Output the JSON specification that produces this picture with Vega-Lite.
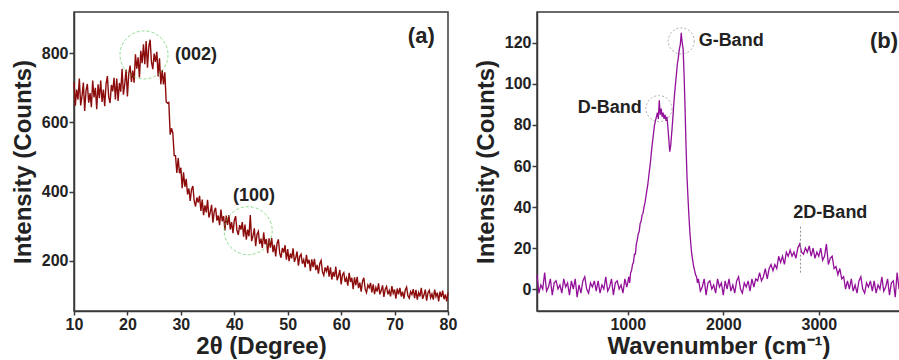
{
"$schema": "https://vega.github.io/schema/vega-lite/v6.json",
"padding": {"left": 10, "top": 11, "right": 0, "bottom": 0},
"background": "white",
"bounds": "flush",
"spacing": 89,
"config": {
  "font": "Liberation Sans",
  "view": {"stroke": "#3a3a3a", "strokeWidth": 1.5},
  "axis": {"grid": false, "domainColor": "#3a3a3a", "domainWidth": 1.5, "tickColor": "#3a3a3a", "tickWidth": 1.5,
    "labelFont": "Liberation Sans", "labelFontWeight": "bold", "labelFontSize": 16, "labelColor": "#222222",
    "titleFont": "Liberation Sans", "titleFontWeight": "bold", "titleFontSize": 24, "titleColor": "#222222"}
},
"datasets": {
 "xrd": [
{"t":10.00,"i":717},{"t":10.25,"i":648},{"t":10.50,"i":695},{"t":10.75,"i":666},{"t":11.00,"i":727},{"t":11.25,"i":649},{"t":11.50,"i":676},{"t":11.75,"i":715},
{"t":12.00,"i":633},{"t":12.25,"i":692},{"t":12.50,"i":711},{"t":12.75,"i":657},{"t":13.00,"i":685},{"t":13.25,"i":644},{"t":13.50,"i":721},{"t":13.75,"i":672},
{"t":14.00,"i":700},{"t":14.25,"i":638},{"t":14.50,"i":710},{"t":14.75,"i":670},{"t":15.00,"i":721},{"t":15.25,"i":659},{"t":15.50,"i":695},{"t":15.75,"i":647},
{"t":16.00,"i":711},{"t":16.25,"i":734},{"t":16.50,"i":673},{"t":16.75,"i":656},{"t":17.00,"i":708},{"t":17.25,"i":690},{"t":17.50,"i":729},{"t":17.75,"i":666},
{"t":18.00,"i":727},{"t":18.25,"i":662},{"t":18.50,"i":714},{"t":18.75,"i":689},{"t":19.00,"i":755},{"t":19.25,"i":680},{"t":19.50,"i":711},{"t":19.75,"i":753},
{"t":20.00,"i":675},{"t":20.25,"i":740},{"t":20.50,"i":764},{"t":20.75,"i":717},{"t":21.00,"i":750},{"t":21.25,"i":715},{"t":21.50,"i":797},{"t":21.75,"i":755},
{"t":22.00,"i":788},{"t":22.25,"i":730},{"t":22.50,"i":807},{"t":22.75,"i":771},{"t":23.00,"i":826},{"t":23.25,"i":768},{"t":23.50,"i":835},{"t":23.75,"i":758},
{"t":24.00,"i":819},{"t":24.25,"i":839},{"t":24.50,"i":774},{"t":24.75,"i":754},{"t":25.00,"i":799},{"t":25.25,"i":775},{"t":25.50,"i":804},{"t":25.75,"i":733},
{"t":26.00,"i":785},{"t":26.25,"i":710},{"t":26.50,"i":751},{"t":26.75,"i":710},{"t":27.00,"i":745},{"t":27.25,"i":660},{"t":27.50,"i":656},{"t":27.75,"i":658},
{"t":28.00,"i":565},{"t":28.25,"i":583},{"t":28.50,"i":570},{"t":28.75,"i":504},{"t":29.00,"i":504},{"t":29.25,"i":454},{"t":29.50,"i":497},{"t":29.75,"i":453},
{"t":30.00,"i":469},{"t":30.25,"i":410},{"t":30.50,"i":456},{"t":30.75,"i":414},{"t":31.00,"i":437},{"t":31.25,"i":392},{"t":31.50,"i":409},{"t":31.75,"i":373},
{"t":32.00,"i":406},{"t":32.25,"i":416},{"t":32.50,"i":373},{"t":32.75,"i":357},{"t":33.00,"i":383},{"t":33.25,"i":368},{"t":33.50,"i":388},{"t":33.75,"i":344},
{"t":34.00,"i":377},{"t":34.25,"i":332},{"t":34.50,"i":360},{"t":34.75,"i":340},{"t":35.00,"i":376},{"t":35.25,"i":325},{"t":35.50,"i":340},{"t":35.75,"i":362},
{"t":36.00,"i":310},{"t":36.25,"i":343},{"t":36.50,"i":353},{"t":36.75,"i":316},{"t":37.00,"i":331},{"t":37.25,"i":303},{"t":37.50,"i":348},{"t":37.75,"i":314},
{"t":38.00,"i":329},{"t":38.25,"i":288},{"t":38.50,"i":331},{"t":38.75,"i":304},{"t":39.00,"i":332},{"t":39.25,"i":291},{"t":39.50,"i":312},{"t":39.75,"i":280},
{"t":40.00,"i":317},{"t":40.25,"i":329},{"t":40.50,"i":288},{"t":40.75,"i":275},{"t":41.00,"i":303},{"t":41.25,"i":290},{"t":41.50,"i":312},{"t":41.75,"i":270},
{"t":42.00,"i":305},{"t":42.25,"i":261},{"t":42.50,"i":290},{"t":42.75,"i":271},{"t":43.00,"i":332},{"t":43.25,"i":257},{"t":43.50,"i":272},{"t":43.75,"i":294},
{"t":44.00,"i":242},{"t":44.25,"i":276},{"t":44.50,"i":285},{"t":44.75,"i":249},{"t":45.00,"i":264},{"t":45.25,"i":237},{"t":45.50,"i":282},{"t":45.75,"i":248},
{"t":46.00,"i":263},{"t":46.25,"i":222},{"t":46.50,"i":265},{"t":46.75,"i":238},{"t":47.00,"i":266},{"t":47.25,"i":225},{"t":47.50,"i":246},{"t":47.75,"i":213},
{"t":48.00,"i":250},{"t":48.25,"i":262},{"t":48.50,"i":222},{"t":48.75,"i":209},{"t":49.00,"i":237},{"t":49.25,"i":224},{"t":49.50,"i":245},{"t":49.75,"i":203},
{"t":50.00,"i":234},{"t":50.25,"i":199},{"t":50.50,"i":221},{"t":50.75,"i":207},{"t":51.00,"i":236},{"t":51.25,"i":197},{"t":51.50,"i":209},{"t":51.75,"i":227},
{"t":52.00,"i":186},{"t":52.25,"i":213},{"t":52.50,"i":219},{"t":52.75,"i":192},{"t":53.00,"i":203},{"t":53.25,"i":181},{"t":53.50,"i":217},{"t":53.75,"i":192},
{"t":54.00,"i":203},{"t":54.25,"i":170},{"t":54.50,"i":204},{"t":54.75,"i":182},{"t":55.00,"i":206},{"t":55.25,"i":173},{"t":55.50,"i":188},{"t":55.75,"i":163},
{"t":56.00,"i":192},{"t":56.25,"i":201},{"t":56.50,"i":168},{"t":56.75,"i":158},{"t":57.00,"i":181},{"t":57.25,"i":170},{"t":57.50,"i":186},{"t":57.75,"i":154},
{"t":58.00,"i":181},{"t":58.25,"i":146},{"t":58.50,"i":168},{"t":58.75,"i":154},{"t":59.00,"i":183},{"t":59.25,"i":144},{"t":59.50,"i":156},{"t":59.75,"i":174},
{"t":60.00,"i":132},{"t":60.25,"i":160},{"t":60.50,"i":166},{"t":60.75,"i":139},{"t":61.00,"i":150},{"t":61.25,"i":128},{"t":61.50,"i":165},{"t":61.75,"i":139},
{"t":62.00,"i":151},{"t":62.25,"i":118},{"t":62.50,"i":152},{"t":62.75,"i":130},{"t":63.00,"i":154},{"t":63.25,"i":121},{"t":63.50,"i":137},{"t":63.75,"i":111},
{"t":64.00,"i":141},{"t":64.25,"i":151},{"t":64.50,"i":118},{"t":64.75,"i":108},{"t":65.00,"i":130},{"t":65.25,"i":122},{"t":65.50,"i":136},{"t":65.75,"i":109},
{"t":66.00,"i":132},{"t":66.25,"i":104},{"t":66.50,"i":123},{"t":66.75,"i":111},{"t":67.00,"i":135},{"t":67.25,"i":103},{"t":67.50,"i":114},{"t":67.75,"i":129},
{"t":68.00,"i":96},{"t":68.25,"i":118},{"t":68.50,"i":126},{"t":68.75,"i":103},{"t":69.00,"i":114},{"t":69.25,"i":97},{"t":69.50,"i":127},{"t":69.75,"i":106},
{"t":70.00,"i":117},{"t":70.25,"i":91},{"t":70.50,"i":120},{"t":70.75,"i":103},{"t":71.00,"i":122},{"t":71.25,"i":97},{"t":71.50,"i":111},{"t":71.75,"i":91},
{"t":72.00,"i":116},{"t":72.25,"i":124},{"t":72.50,"i":99},{"t":72.75,"i":92},{"t":73.00,"i":111},{"t":73.25,"i":103},{"t":73.50,"i":118},{"t":73.75,"i":92},
{"t":74.00,"i":116},{"t":74.25,"i":88},{"t":74.50,"i":108},{"t":74.75,"i":97},{"t":75.00,"i":122},{"t":75.25,"i":90},{"t":75.50,"i":101},{"t":75.75,"i":117},
{"t":76.00,"i":85},{"t":76.25,"i":108},{"t":76.50,"i":115},{"t":76.75,"i":93},{"t":77.00,"i":104},{"t":77.25,"i":88},{"t":77.50,"i":117},{"t":77.75,"i":97},
{"t":78.00,"i":108},{"t":78.25,"i":83},{"t":78.50,"i":111},{"t":78.75,"i":95},{"t":79.00,"i":114},{"t":79.25,"i":89},{"t":79.50,"i":103},{"t":79.75,"i":83},
{"t":80.00,"i":108}
 ],
 "raman": [
{"w":50,"c":7},{"w":70,"c":-2},{"w":90,"c":2},{"w":110,"c":0},{"w":130,"c":8},{"w":150,"c":-1},{"w":170,"c":1},{"w":190,"c":5},
{"w":210,"c":-3},{"w":230,"c":3},{"w":250,"c":4},{"w":270,"c":0},{"w":290,"c":2},{"w":310,"c":-2},{"w":330,"c":5},{"w":350,"c":1},
{"w":370,"c":3},{"w":390,"c":-3},{"w":410,"c":4},{"w":430,"c":0},{"w":450,"c":5},{"w":470,"c":-4},{"w":490,"c":2},{"w":510,"c":-2},
{"w":530,"c":4},{"w":550,"c":6},{"w":570,"c":0},{"w":590,"c":-2},{"w":610,"c":3},{"w":630,"c":1},{"w":650,"c":4},{"w":670,"c":-1},
{"w":690,"c":4},{"w":710,"c":-2},{"w":730,"c":2},{"w":750,"c":0},{"w":770,"c":6},{"w":790,"c":-1},{"w":810,"c":1},{"w":830,"c":5},
{"w":850,"c":-3},{"w":870,"c":3},{"w":890,"c":4},{"w":910,"c":0},{"w":930,"c":2},{"w":950,"c":-2},{"w":970,"c":5},{"w":990,"c":1},
{"w":1000,"c":3},{"w":1010,"c":6},{"w":1020,"c":3},{"w":1030,"c":8},{"w":1040,"c":9},{"w":1050,"c":12},{"w":1060,"c":13},{"w":1070,"c":17},
{"w":1080,"c":17},{"w":1090,"c":22},{"w":1100,"c":24},{"w":1110,"c":27},{"w":1120,"c":28},{"w":1130,"c":32},{"w":1140,"c":33},{"w":1150,"c":36},
{"w":1160,"c":37},{"w":1170,"c":40},{"w":1180,"c":42},{"w":1190,"c":45},{"w":1200,"c":48},{"w":1210,"c":51},{"w":1220,"c":55},{"w":1230,"c":59},
{"w":1240,"c":63},{"w":1250,"c":68},{"w":1260,"c":72},{"w":1270,"c":76},{"w":1280,"c":80},{"w":1290,"c":82},{"w":1300,"c":84},{"w":1310,"c":86},
{"w":1320,"c":83},{"w":1330,"c":92},{"w":1340,"c":85},{"w":1350,"c":88},{"w":1360,"c":84},{"w":1370,"c":86},{"w":1380,"c":83},{"w":1390,"c":85},
{"w":1400,"c":82},{"w":1410,"c":84},{"w":1420,"c":79},{"w":1430,"c":73},{"w":1440,"c":67},{"w":1450,"c":70},{"w":1460,"c":76},{"w":1470,"c":82},
{"w":1480,"c":89},{"w":1490,"c":95},{"w":1500,"c":100},{"w":1510,"c":105},{"w":1520,"c":110},{"w":1530,"c":113},{"w":1540,"c":117},{"w":1550,"c":119},
{"w":1560,"c":125},{"w":1570,"c":120},{"w":1580,"c":117},{"w":1590,"c":104},{"w":1600,"c":88},{"w":1610,"c":70},{"w":1620,"c":55},{"w":1630,"c":45},
{"w":1640,"c":36},{"w":1650,"c":28},{"w":1660,"c":22},{"w":1670,"c":17},{"w":1680,"c":14},{"w":1690,"c":11},{"w":1700,"c":9},{"w":1710,"c":7},
{"w":1720,"c":6},{"w":1730,"c":3},{"w":1740,"c":5},
{"w":1760,"c":-1},{"w":1780,"c":1},{"w":1800,"c":5},{"w":1820,"c":-3},{"w":1840,"c":3},{"w":1860,"c":4},{"w":1880,"c":0},{"w":1900,"c":2},
{"w":1920,"c":-2},{"w":1940,"c":5},{"w":1960,"c":1},{"w":1980,"c":3},{"w":2000,"c":-3},{"w":2020,"c":4},{"w":2040,"c":0},{"w":2060,"c":5},
{"w":2080,"c":-1},{"w":2100,"c":2},{"w":2120,"c":-2},{"w":2140,"c":4},{"w":2160,"c":6},{"w":2180,"c":0},{"w":2200,"c":-2},{"w":2220,"c":3},
{"w":2240,"c":1},{"w":2260,"c":4},{"w":2280,"c":-1},
{"w":2300,"c":5},{"w":2320,"c":1},{"w":2340,"c":5},{"w":2360,"c":4},{"w":2380,"c":8},{"w":2400,"c":4},{"w":2420,"c":6},{"w":2440,"c":10},
{"w":2460,"c":5},{"w":2480,"c":10},{"w":2500,"c":12},{"w":2520,"c":9},{"w":2540,"c":12},{"w":2560,"c":10},{"w":2580,"c":16},{"w":2600,"c":13},
{"w":2620,"c":16},{"w":2640,"c":12},{"w":2660,"c":18},{"w":2680,"c":16},{"w":2700,"c":19},{"w":2720,"c":16},{"w":2740,"c":18},{"w":2760,"c":15},
{"w":2780,"c":20},{"w":2800,"c":22},{"w":2820,"c":18},{"w":2840,"c":17},{"w":2860,"c":20},{"w":2880,"c":18},{"w":2900,"c":21},{"w":2920,"c":16},
{"w":2940,"c":20},{"w":2960,"c":15},{"w":2980,"c":18},{"w":3000,"c":16},{"w":3020,"c":20},{"w":3040,"c":14},{"w":3060,"c":16},{"w":3080,"c":22},
{"w":3100,"c":12},{"w":3120,"c":15},{"w":3140,"c":16},{"w":3160,"c":10},{"w":3180,"c":11},{"w":3200,"c":7},{"w":3220,"c":10},{"w":3240,"c":5},
{"w":3260,"c":6},{"w":3280,"c":0},
{"w":3300,"c":4},{"w":3320,"c":0},{"w":3340,"c":5},{"w":3360,"c":-1},{"w":3380,"c":2},{"w":3400,"c":-2},{"w":3420,"c":4},{"w":3440,"c":6},
{"w":3460,"c":0},{"w":3480,"c":-2},{"w":3500,"c":3},{"w":3520,"c":1},{"w":3540,"c":4},{"w":3560,"c":-1},{"w":3580,"c":4},{"w":3600,"c":-2},
{"w":3620,"c":2},{"w":3640,"c":0},{"w":3660,"c":6},{"w":3680,"c":-1},{"w":3700,"c":1},{"w":3720,"c":5},{"w":3740,"c":-3},{"w":3760,"c":3},
{"w":3780,"c":4},{"w":3800,"c":-4},{"w":3820,"c":8},{"w":3840,"c":0},{"w":3850,"c":5}
 ]
},
"hconcat": [
 {
  "width": 374, "height": 299,
  "layer": [
   {"data": {"name": "xrd"},
    "mark": {"type": "line", "color": "#8c0c0c", "strokeWidth": 1.4},
    "encoding": {
     "x": {"field": "t", "type": "quantitative", "scale": {"domain": [10, 80], "nice": false, "zero": false},
       "axis": {"values": [10, 20, 30, 40, 50, 60, 70, 80], "title": "2θ (Degree)", "tickSize": 4, "labelPadding": 1, "titlePadding": 2, "labelFlush": false}},
     "y": {"field": "i", "type": "quantitative", "scale": {"domain": [55, 919], "nice": false, "zero": false},
       "axis": {"values": [200, 400, 600, 800], "title": "Intensity (Counts)", "tickSize": 5, "labelPadding": 1, "titlePadding": 6}}}},
   {"data": {"values": [{"t": 23.1, "i": 795}, {"t": 42.6, "i": 287}]},
    "mark": {"type": "point", "shape": "circle", "size": 2304, "filled": false, "stroke": "#5fcf5f", "strokeWidth": 1, "strokeDash": [3, 2]},
    "encoding": {"x": {"field": "t", "type": "quantitative"}, "y": {"field": "i", "type": "quantitative"}}},
   {"data": {"values": [{"t": 28.9, "i": 795, "label": "(002)"}]},
    "mark": {"type": "text", "align": "left", "fontSize": 18, "fontWeight": "bold", "color": "#222222"},
    "encoding": {"x": {"field": "t", "type": "quantitative"}, "y": {"field": "i", "type": "quantitative"}, "text": {"field": "label"}}},
   {"data": {"values": [{"t": 43.7, "i": 388, "label": "(100)"}]},
    "mark": {"type": "text", "align": "center", "fontSize": 18, "fontWeight": "bold", "color": "#222222"},
    "encoding": {"x": {"field": "t", "type": "quantitative"}, "y": {"field": "i", "type": "quantitative"}, "text": {"field": "label"}}},
   {"data": {"values": [{"t": 75, "i": 850, "label": "(a)"}]},
    "mark": {"type": "text", "align": "center", "fontSize": 22, "fontWeight": "bold", "color": "#222222"},
    "encoding": {"x": {"field": "t", "type": "quantitative"}, "y": {"field": "i", "type": "quantitative"}, "text": {"field": "label"}}}
  ]
 },
 {
  "width": 363, "height": 299,
  "layer": [
   {"data": {"name": "raman"},
    "mark": {"type": "line", "color": "#93109a", "strokeWidth": 1.3},
    "encoding": {
     "x": {"field": "w", "type": "quantitative", "scale": {"domain": [50, 3850], "nice": false, "zero": false},
       "axis": {"values": [1000, 2000, 3000], "format": "d", "title": "Wavenumber (cm⁻¹)", "tickSize": 4, "labelPadding": 1, "titlePadding": 2}},
     "y": {"field": "c", "type": "quantitative", "scale": {"domain": [-10.7, 135.1], "nice": false, "zero": false},
       "axis": {"values": [0, 20, 40, 60, 80, 100, 120], "title": "Intensity (Counts)", "tickSize": 5, "labelPadding": 1, "titlePadding": 6}}}},
   {"data": {"values": [{"w": 1327, "c": 88}, {"w": 1560, "c": 121}]},
    "mark": {"type": "point", "shape": "circle", "size": 676, "filled": false, "stroke": "#8a8a8a", "strokeWidth": 1, "strokeDash": [2, 2]},
    "encoding": {"x": {"field": "w", "type": "quantitative"}, "y": {"field": "c", "type": "quantitative"}}},
   {"data": {"values": [{"w": 2808, "c": 8, "c2": 31}]},
    "mark": {"type": "rule", "color": "#8a8a8a", "strokeWidth": 1, "strokeDash": [2, 2]},
    "encoding": {"x": {"field": "w", "type": "quantitative"}, "y": {"field": "c", "type": "quantitative"}, "y2": {"field": "c2"}}},
   {"data": {"values": [{"w": 1146, "c": 88.3, "label": "D-Band"}]},
    "mark": {"type": "text", "align": "right", "fontSize": 18, "fontWeight": "bold", "color": "#222222"},
    "encoding": {"x": {"field": "w", "type": "quantitative"}, "y": {"field": "c", "type": "quantitative"}, "text": {"field": "label"}}},
   {"data": {"values": [{"w": 1742, "c": 121, "label": "G-Band"}]},
    "mark": {"type": "text", "align": "left", "fontSize": 18, "fontWeight": "bold", "color": "#222222"},
    "encoding": {"x": {"field": "w", "type": "quantitative"}, "y": {"field": "c", "type": "quantitative"}, "text": {"field": "label"}}},
   {"data": {"values": [{"w": 3121, "c": 37, "label": "2D-Band"}]},
    "mark": {"type": "text", "align": "center", "fontSize": 18, "fontWeight": "bold", "color": "#222222"},
    "encoding": {"x": {"field": "w", "type": "quantitative"}, "y": {"field": "c", "type": "quantitative"}, "text": {"field": "label"}}},
   {"data": {"values": [{"w": 3830, "c": 121, "label": "(b)"}]},
    "mark": {"type": "text", "align": "right", "fontSize": 22, "fontWeight": "bold", "color": "#222222"},
    "encoding": {"x": {"field": "w", "type": "quantitative"}, "y": {"field": "c", "type": "quantitative"}, "text": {"field": "label"}}}
  ]
 }
]
}
